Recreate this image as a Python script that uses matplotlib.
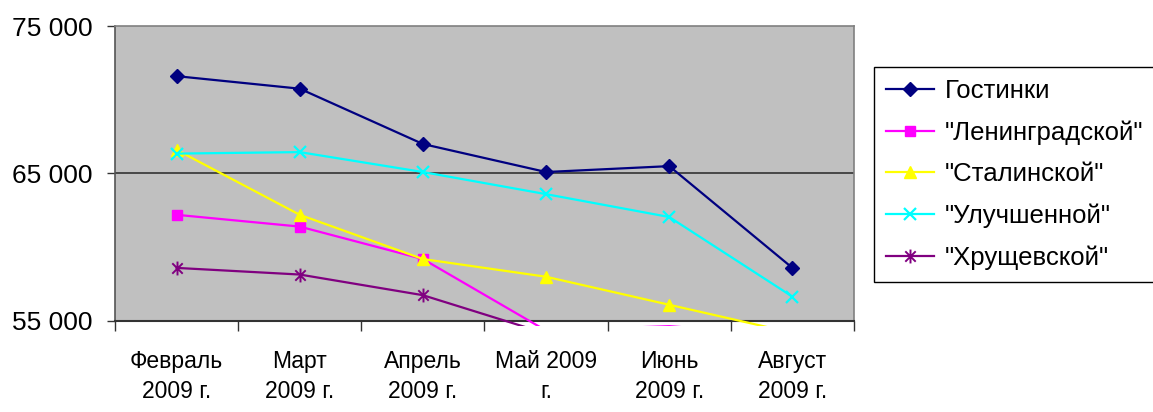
import matplotlib
matplotlib.use("Agg")
import matplotlib.pyplot as plt
from matplotlib.path import Path
from matplotlib.transforms import Bbox, TransformedBbox
from matplotlib.ticker import FuncFormatter, FixedLocator
import numpy as np

plt.rcParams['font.family'] = ['Liberation Sans', 'DejaVu Sans']

# --- data ---
months = ["Февраль\n2009 г.", "Март\n2009 г.", "Апрель\n2009 г.",
          "Май 2009\nг.", "Июнь\n2009 г.", "Август\n2009 г."]

gostinki = [71600, 70750, 67000, 65100, 65500, 58600]
leningrad = [62200, 61400, 59200, 54350, 54650, 54000]
stalin = [66600, 62200, 59200, 58000, 56100, 54200]
uluchsh = [66350, 66450, 65100, 63600, 62050, 56650]
hrush = [58600, 58150, 56750, 54150, 53900, 53500]

series_names = ['Гостинки', '"Ленинградской"', '"Сталинской"',
                '"Улучшенной"', '"Хрущевской"']

y_min, y_max = 55000, 75000

# Excel-like asterisk marker: vertical bar plus an X
star = Path([(0, -1), (0, 1), (-0.75, -0.75), (0.75, 0.75),
             (-0.75, 0.75), (0.75, -0.75)],
            [Path.MOVETO, Path.LINETO, Path.MOVETO, Path.LINETO,
             Path.MOVETO, Path.LINETO])

styles = [
    dict(color='#000080', marker='D', ms=7.5),
    dict(color='#FF00FF', marker='s', ms=7),
    dict(color='#FFFF00', marker='^', ms=9),
    dict(color='#00FFFF', marker='x', ms=9, mew=1.6),
    dict(color='#800080', marker=star, ms=10, mew=1.4),
]

fig = plt.figure(figsize=(11.53, 4.12), dpi=100)
ax = fig.add_axes([115 / 1153, 1 - 321 / 412, (854 - 115) / 1153, (321 - 26) / 412])
ax.set_facecolor('#C0C0C0')

x = np.arange(len(months))
# lines spill a few pixels past the bottom edge, like in the original
clip = TransformedBbox(Bbox([[0, -0.017], [1, 1]]), ax.transAxes)

for vals, name, st in zip([gostinki, leningrad, stalin, uluchsh, hrush],
                          series_names, styles):
    visible = [v >= y_min for v in vals]
    ln, = ax.plot(x, vals, color=st['color'], lw=1.6, label=name,
                  marker=st['marker'], markersize=st['ms'],
                  markeredgewidth=st.get('mew', 1.0),
                  markerfacecolor=st['color'], markeredgecolor=st['color'],
                  markevery=visible, zorder=3)
    ln.set_clip_box(clip)

ax.set_xlim(-0.5, len(months) - 0.5)
ax.set_ylim(y_min, y_max)

# gridline at 65 000
ax.axhline(65000, color='#333333', lw=1.2, zorder=2)

ax.yaxis.set_major_locator(FixedLocator([55000, 65000, 75000]))
ax.yaxis.set_major_formatter(FuncFormatter(lambda v, p: f"{int(v):,}".replace(",", " ")))
ax.tick_params(axis='y', direction='out', length=6, width=1, color='#333333',
               labelsize=19, pad=10)

ax.set_xticks(x)
ax.set_xticklabels(months)
ax.set_xticks(np.arange(-0.5, len(months)), minor=True)
ax.tick_params(axis='x', which='major', length=0, labelsize=16.5, pad=21)
ax.tick_params(axis='x', which='minor', direction='out', length=7, width=1,
               color='#333333')
for lbl in ax.get_xticklabels():
    lbl.set_linespacing(1.4)

for side in ['left', 'right', 'top']:
    ax.spines[side].set_color('#808080')
    ax.spines[side].set_linewidth(1.2)
ax.spines['bottom'].set_color('#333333')
ax.spines['bottom'].set_linewidth(1.5)
ax.spines['left'].set_color('#555555')

leg = ax.legend(loc='upper left', bbox_to_anchor=(874 / 1153, 1 - 67 / 412),
                bbox_transform=fig.transFigure, borderaxespad=0,
                fancybox=False, edgecolor='black', framealpha=1,
                fontsize=18.5, handlelength=1.9, handletextpad=0.4,
                labelspacing=0.68, borderpad=0.45)
leg.get_frame().set_linewidth(1.0)

fig.savefig('out.png', dpi=100)
